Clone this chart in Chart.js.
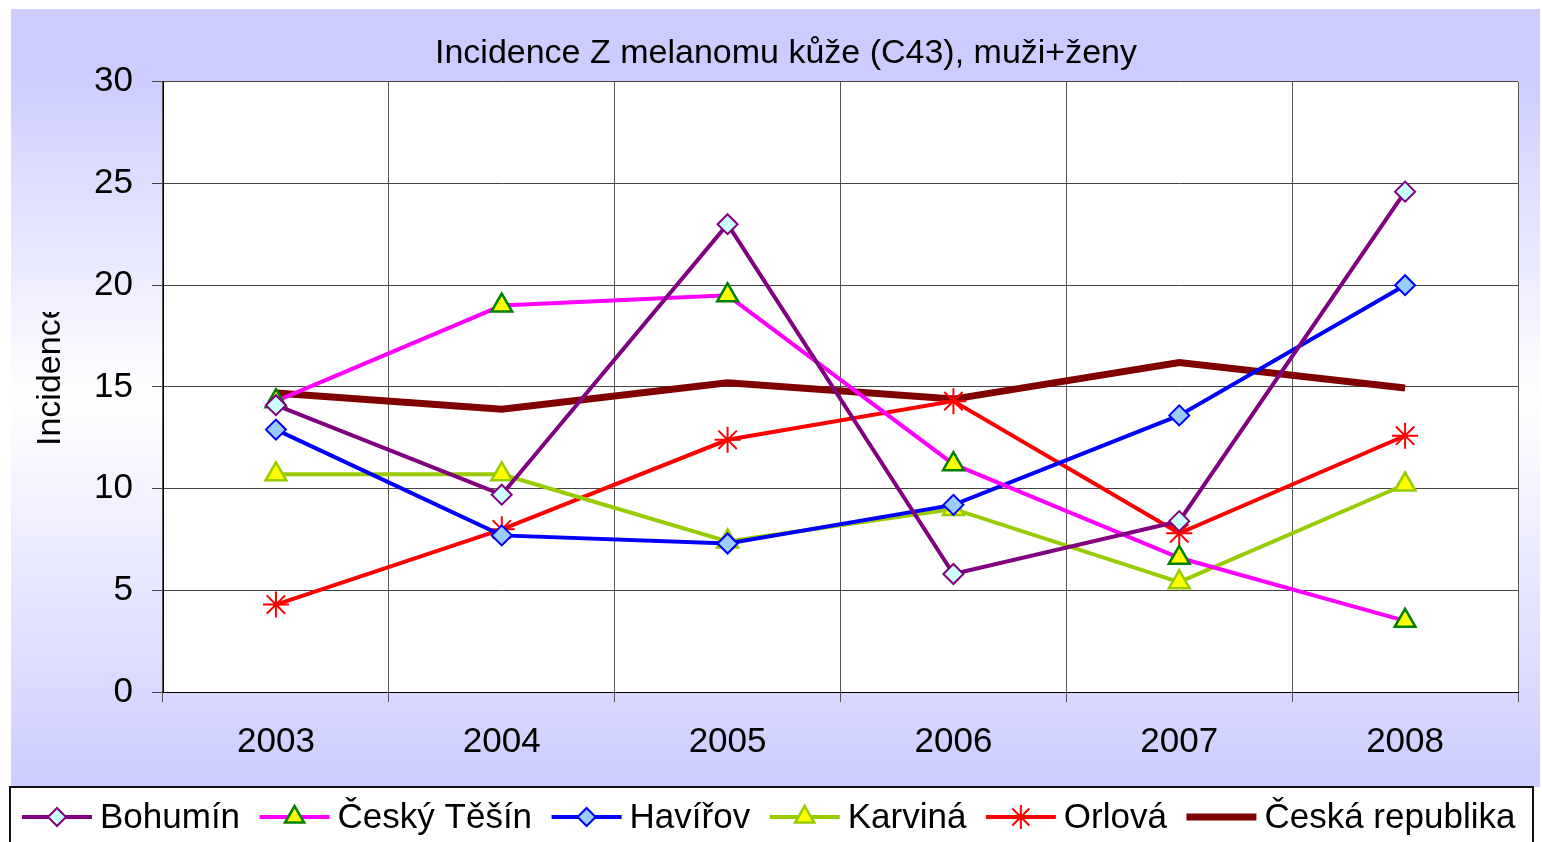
<!DOCTYPE html>
<html>
<head>
<meta charset="utf-8">
<script src="https://cdn.jsdelivr.net/npm/chart.js@4/dist/chart.umd.min.js"></script>
<style>
  html, body { margin: 0; padding: 0; background: #fff; }
  #wrap { width: 1542px; height: 842px; }
</style>
</head>
<body>
<div id="wrap"><canvas id="chartCanvas" width="1542" height="842"></canvas></div>
<script>
const years = ["2003", "2004", "2005", "2006", "2007", "2008"]

const bohumin = [14.1, 9.7, 23.0, 5.8, 8.4, 24.6]
const ceskyTesin = [14.3, 19.0, 19.5, 11.2, 6.6, 3.5]
const havirov = [12.9, 7.7, 7.3, 9.2, 13.6, 20.0]
const karvina = [10.7, 10.7, 7.4, 9.0, 5.4, 10.2]
const orlova = [4.3, 8.0, 12.4, 14.3, 7.8, 12.6]
const ceskaRepublika = [14.7, 13.9, 15.2, 14.4, 16.2, 14.95]

const yTicks = [0, 5, 10, 15, 20, 25, 30]

const FONT = "'Liberation Sans', Arial, sans-serif"

const series = [
    { label: "Bohumín", data: bohumin, color: "#800080", width: 4, style: "rectRot", radius: 10, fill: "#ccffff", edge: "#800080", edgeW: 2 },
    { label: "Český Těšín", data: ceskyTesin, color: "#ff00ff", width: 4, style: "triangle", radius: 12, fill: "#ffff00", edge: "#008000", edgeW: 2.5 },
    { label: "Havířov", data: havirov, color: "#0000ff", width: 4, style: "rectRot", radius: 10, fill: "#99ccff", edge: "#0000ff", edgeW: 2 },
    { label: "Karviná", data: karvina, color: "#99cc00", width: 4, style: "triangle", radius: 12, fill: "#ffff00", edge: "#99cc00", edgeW: 2.5 },
    { label: "Orlová", data: orlova, color: "#ff0000", width: 4, style: "star", radius: 13, fill: "#ff0000", edge: "#ff0000", edgeW: 2 },
    { label: "Česká republika", data: ceskaRepublika, color: "#800000", width: 7, style: false, radius: 0, fill: "#800000", edge: "#800000", edgeW: 0 }
]

// background: lavender gradient frame, white plot area
const backgroundPlugin = {
    id: "bg",
    beforeDraw(chart){
        const ctx = chart.ctx
        const area = chart.chartArea
        ctx.save()
        ctx.fillStyle = "#ffffff"
        ctx.fillRect(0, 0, chart.width, chart.height)
        const g = ctx.createLinearGradient(0, 9, 0, 787)
        g.addColorStop(0, "#ccccff")
        g.addColorStop(0.08, "#ccccff")
        g.addColorStop(0.5, "#ffffff")
        g.addColorStop(1, "#ccccff")
        ctx.fillStyle = g
        ctx.fillRect(11, 9, 1529, 778)
        ctx.fillStyle = "#ffffff"
        ctx.fillRect(area.left, area.top, area.right - area.left, area.bottom - area.top)
        ctx.restore()
    }
}

function drawMarker(ctx, s, x, y, r){
    if(!s.style) return
    ctx.fillStyle = s.fill
    ctx.strokeStyle = s.edge
    ctx.lineWidth = s.edgeW
    Chart.helpers.drawPoint(ctx, { pointStyle: s.style, rotation: 0, radius: r, borderWidth: s.edgeW }, x, y)
}

// y axis title (clipped like the original) and legend box
const extrasPlugin = {
    id: "extras",
    afterDraw(chart){
        const ctx = chart.ctx
        ctx.save()
        ctx.beginPath()
        ctx.rect(0, 312, 160, 400)
        ctx.clip()
        ctx.translate(51, 446)
        ctx.rotate(-Math.PI / 2)
        ctx.font = "34px " + FONT
        ctx.fillStyle = "#000"
        ctx.textAlign = "left"
        ctx.textBaseline = "middle"
        ctx.fillText("Incidence", 0, 0)
        ctx.restore()

        ctx.save()
        ctx.fillStyle = "#ffffff"
        ctx.fillRect(10, 787, 1523, 60)
        ctx.strokeStyle = "#111"
        ctx.lineWidth = 2
        ctx.strokeRect(10, 787, 1523, 60)

        ctx.font = "35px " + FONT
        ctx.textBaseline = "middle"
        ctx.textAlign = "left"
        const cy = 817
        let x = 22
        series.forEach(s => {
            ctx.strokeStyle = s.color
            ctx.lineWidth = s.width
            ctx.beginPath()
            ctx.moveTo(x, cy)
            ctx.lineTo(x + 70, cy)
            ctx.stroke()
            drawMarker(ctx, s, x + 35, cy, s.radius - 1)
            ctx.fillStyle = "#000"
            ctx.fillText(s.label, x + 78, cy + 1)
            x += 78 + ctx.measureText(s.label).width + 19.5
        })
        ctx.restore()
    }
}

const ctx = document.getElementById("chartCanvas")

new Chart(ctx, {
    type: "line",
    data: {
        labels: years,
        datasets: series.map(s => ({
            label: s.label,
            data: s.data,
            borderColor: s.color,
            borderWidth: s.width,
            backgroundColor: s.fill,
            pointStyle: s.style,
            pointRadius: s.radius,
            pointHoverRadius: s.radius,
            pointBackgroundColor: s.fill,
            pointBorderColor: s.edge,
            pointBorderWidth: s.edgeW,
            tension: 0,
            fill: false
        }))
    },
    options: {
        responsive: false,
        animation: false,
        devicePixelRatio: 1,
        layout: { padding: { left: 54, right: 24, top: 0, bottom: 55 } },
        plugins: {
            legend: { display: false },
            tooltip: { enabled: false },
            title: {
                display: true,
                text: "Incidence Z melanomu kůže (C43), muži+ženy",
                color: "#000",
                font: { family: FONT, size: 34, weight: "normal", lineHeight: 1.2 },
                padding: { top: 33, bottom: 8 }
            }
        },
        scales: {
            x: {
                offset: true,
                grid: { offset: true, color: "#555", lineWidth: 1, tickLength: 10, drawTicks: true },
                border: { color: "#000", width: 1 },
                ticks: { color: "#000", font: { family: FONT, size: 35 }, padding: 19, maxRotation: 0 },
                afterFit(scale){ scale.height = 95 }
            },
            y: {
                min: 0,
                max: 30,
                afterBuildTicks(scale){ scale.ticks = yTicks.map(v => ({ value: v })) },
                grid: { color: "#444", lineWidth: 1, tickLength: 11 },
                border: { color: "#000", width: 1 },
                ticks: { color: "#000", font: { family: FONT, size: 35 }, padding: 19 },
                afterFit(scale){ scale.width = 109 }
            }
        }
    },
    plugins: [backgroundPlugin, extrasPlugin]
})
</script>
</body>
</html>
